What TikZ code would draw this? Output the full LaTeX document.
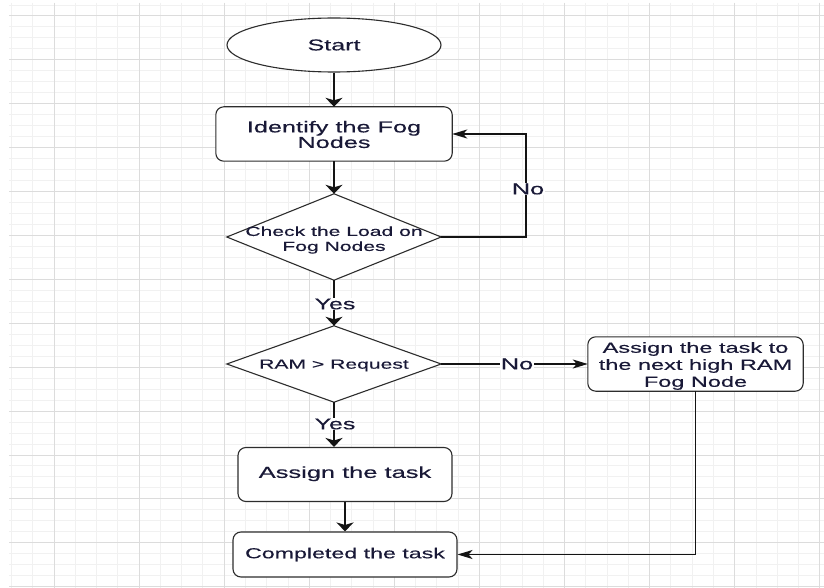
\documentclass[tikz,border=0pt]{standalone}
\usepackage{fontspec}
\newfontfamily\dfont[FakeStretch=1.6,FakeBold=0.3]{Liberation Sans}
\usetikzlibrary{arrows.meta,shapes.geometric}
\definecolor{txt}{RGB}{25,25,55}
\definecolor{gmaj}{RGB}{220,220,220}
\definecolor{gmin}{RGB}{241,241,241}
\definecolor{edge}{RGB}{45,45,45}
\begin{document}
\begin{tikzpicture}[x=1pt,y=-1pt,
  shp/.style={draw=edge, line width=1.1pt, fill=white},
  box/.style={shp, rounded corners=8pt, inner sep=0pt, align=center, text=txt},
  ttext/.style={inner sep=0pt, align=center, text=txt},
  lbl/.style={fill=white, inner sep=0.8pt, text=txt, font=\dfont\fontsize{15.8}{16}\selectfont},
  conn/.style={line width=1.4pt, black!92},
  varr/.style={conn, -{Stealth[length=9pt,width=17pt,inset=2.5pt]}},
  harr/.style={conn, -{Stealth[length=15pt,width=9pt,inset=4pt]}}]
\useasboundingbox (0,0) rectangle (824,588);
\fill[white] (0,0) rectangle (824,588);
% grid
\foreach \j in {-2,...,36} \draw[gmin, line width=1pt] ({54+21.275*\j},3) -- ({54+21.275*\j},588);
\foreach \j in {-1,...,52} \draw[gmin, line width=1pt] (9,{16+10.975*\j}) -- (824,{16+10.975*\j});
\foreach \k in {0,...,9} \draw[gmaj, line width=1pt] ({54+85.1*\k},3) -- ({54+85.1*\k},588);
\foreach \k in {0,...,13} \draw[gmaj, line width=1pt] (9,{16+43.9*\k}) -- (824,{16+43.9*\k});

% nodes
\node[shp, ellipse, minimum width=214pt, minimum height=54pt, inner sep=0pt, text=txt,
      font=\dfont\fontsize{15.7}{16}\selectfont] (start) at (334,45) {Start};
\node[minimum width=236pt, minimum height=54pt, inner sep=0pt] (box1) at (334,134) {};
\draw[shp, rounded corners=8pt] (box1.south west) rectangle (box1.north east);
\node[ttext, font=\dfont\fontsize{15.8}{15.5}\selectfont] (box1t) at (334,134.5) {Identify the Fog\\Nodes};

\node[minimum width=214pt, minimum height=86pt, inner sep=0pt] (d1) at (334,237) {};
\draw[shp] (d1.west) -- (d1.north) -- (d1.east) -- (d1.south) -- cycle;
\node[ttext, font=\dfont\fontsize{13.2}{15}\selectfont] (d1t) at (334,240) {Check the Load on\\Fog Nodes};

\node[minimum width=214pt, minimum height=76pt, inner sep=0pt] (d2) at (334,364) {};
\draw[shp] (d2.west) -- (d2.north) -- (d2.east) -- (d2.south) -- cycle;
\node[ttext, font=\dfont\fontsize{13.2}{15}\selectfont] (d2t) at (334,365.5) {RAM > Request};

\node[minimum width=215pt, minimum height=54pt, inner sep=0pt] (box3) at (695.5,364) {};
\draw[shp, rounded corners=8pt] (box3.south west) rectangle (box3.north east);
\node[ttext, font=\dfont\fontsize{14.7}{17}\selectfont] (box3t) at (695.5,366) {Assign the task to\\the next high RAM\\Fog Node};

\node[box, minimum width=214pt, minimum height=54pt,
      font=\dfont\fontsize{15.9}{16}\selectfont] (box4) at (345,474.5) {\strut Assign the task};
\node[box, minimum width=224pt, minimum height=45pt,
      font=\dfont\fontsize{14.5}{16}\selectfont] (box5) at (345,554.5) {Completed the task};

% connectors
\coordinate (c1) at (526,237);
\draw[varr] (start) -- (box1);
\draw[varr] (box1) -- (d1.north);
\draw[harr] (d1.east) -- (c1) |- (box1.east);
\node[lbl] (no1) at (528,189) {No};
\draw[varr] (d1.south) -- (d2.north);
\node[lbl, font=\dfont\fontsize{15.6}{16}\selectfont] (yes1) at (335,304) {Yes};
\draw[harr] (d2.east) -- (box3.west);
\node[lbl] (no2) at (517,364) {No};
\draw[varr] (d2.south) -- (d2.south |- box4.north);
\node[lbl, font=\dfont\fontsize{15.6}{16}\selectfont] (yes2) at (335,424) {Yes};
\draw[varr] (box4) -- (box5);
\draw[harr] (box3.south) |- (box5.east);
\end{tikzpicture}
\end{document}
